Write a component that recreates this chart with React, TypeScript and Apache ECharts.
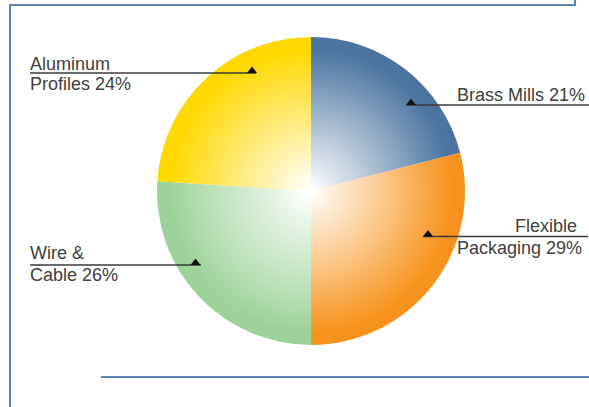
import React, { useEffect, useRef } from "react";
import * as echarts from "echarts";

const categories = ["Brass Mills", "Flexible Packaging", "Wire & Cable", "Aluminum Profiles"];
const shares = [21, 29, 26, 24];
const colors = ["#4b74a0", "#f7931c", "#9dd39a", "#ffd800"];
// label text lines (first line, second line)
const labelLines = [
  ["Brass Mills 21%"],
  ["Flexible", "Packaging 29%"],
  ["Wire &", "Cable 26%"],
  ["Aluminum", "Profiles 24%"],
];

const CX = 311;
const CY = 191;
const R = 154;

const txt = (text: string, x: number, y: number, align: string) => ({
  type: "text",
  x,
  y,
  z: 100,
  style: {
    text,
    fill: "#404040",
    font: "18px 'Liberation Sans'",
    align,
    verticalAlign: "middle",
  },
});

const line = (x1: number, x2: number, y: number) => ({
  type: "line",
  z: 100,
  shape: { x1, y1: y, x2, y2: y },
  style: { stroke: "#3a3a3a", lineWidth: 1.3 },
});

const tri = (x: number, y: number) => ({
  type: "polygon",
  z: 101,
  shape: { points: [[x - 5, y], [x + 5, y], [x, y - 6.5]] },
  style: { fill: "#111" },
});

const border = (x1: number, y1: number, x2: number, y2: number) => ({
  type: "line",
  z: 100,
  shape: { x1, y1, x2, y2 },
  style: { stroke: "#5b82b2", lineWidth: 2 },
});

export default function App() {
  const ref = useRef<HTMLDivElement>(null);
  useEffect(() => {
    const chart = echarts.init(ref.current!, null, { renderer: "svg" });
    chart.setOption({
      animation: false,
      backgroundColor: "#ffffff",
      series: [
        {
          type: "pie",
          center: [CX, CY],
          radius: R,
          startAngle: 90,
          clockwise: true,
          z: 1,
          label: { show: false },
          labelLine: { show: false },
          emphasis: { disabled: true },
          data: categories.map((name, i) => ({
            name,
            value: shares[i],
            itemStyle: {
              color: {
                type: "radial",
                x: CX,
                y: CY,
                r: R,
                global: true,
                colorStops: [
                  { offset: 0, color: "#ffffff" },
                  { offset: 0.92, color: colors[i] },
                  { offset: 1, color: colors[i] },
                ],
              },
            },
          })),
        },
      ],
      graphic: {
        zlevel: 1,
        elements: [
          border(10, 5, 575, 5),
          border(575, 0, 575, 6),
          border(10, 4, 10, 407),
          border(101, 377, 589, 377),
          // Aluminum Profiles
          txt(labelLines[3][0], 30, 63.5, "left"),
          line(30, 256, 73),
          tri(252, 73),
          txt(labelLines[3][1], 30, 84, "left"),
          // Brass Mills
          txt(labelLines[0][0], 585, 94.5, "right"),
          line(406, 589, 105),
          tri(411, 105),
          // Flexible Packaging
          txt(labelLines[1][0], 577, 225.5, "right"),
          line(423, 588, 236.5),
          tri(428, 236.5),
          txt(labelLines[1][1], 582, 247.5, "right"),
          // Wire & Cable
          txt(labelLines[2][0], 30, 252.5, "left"),
          line(30, 201, 265),
          tri(195.5, 265),
          txt(labelLines[2][1], 30, 275, "left"),
        ],
      },
    });
    return () => chart.dispose();
  }, []);
  return (
    <div
      ref={ref}
      style={{ position: "absolute", left: 0, top: 0, width: 589, height: 407 }}
    />
  );
}
